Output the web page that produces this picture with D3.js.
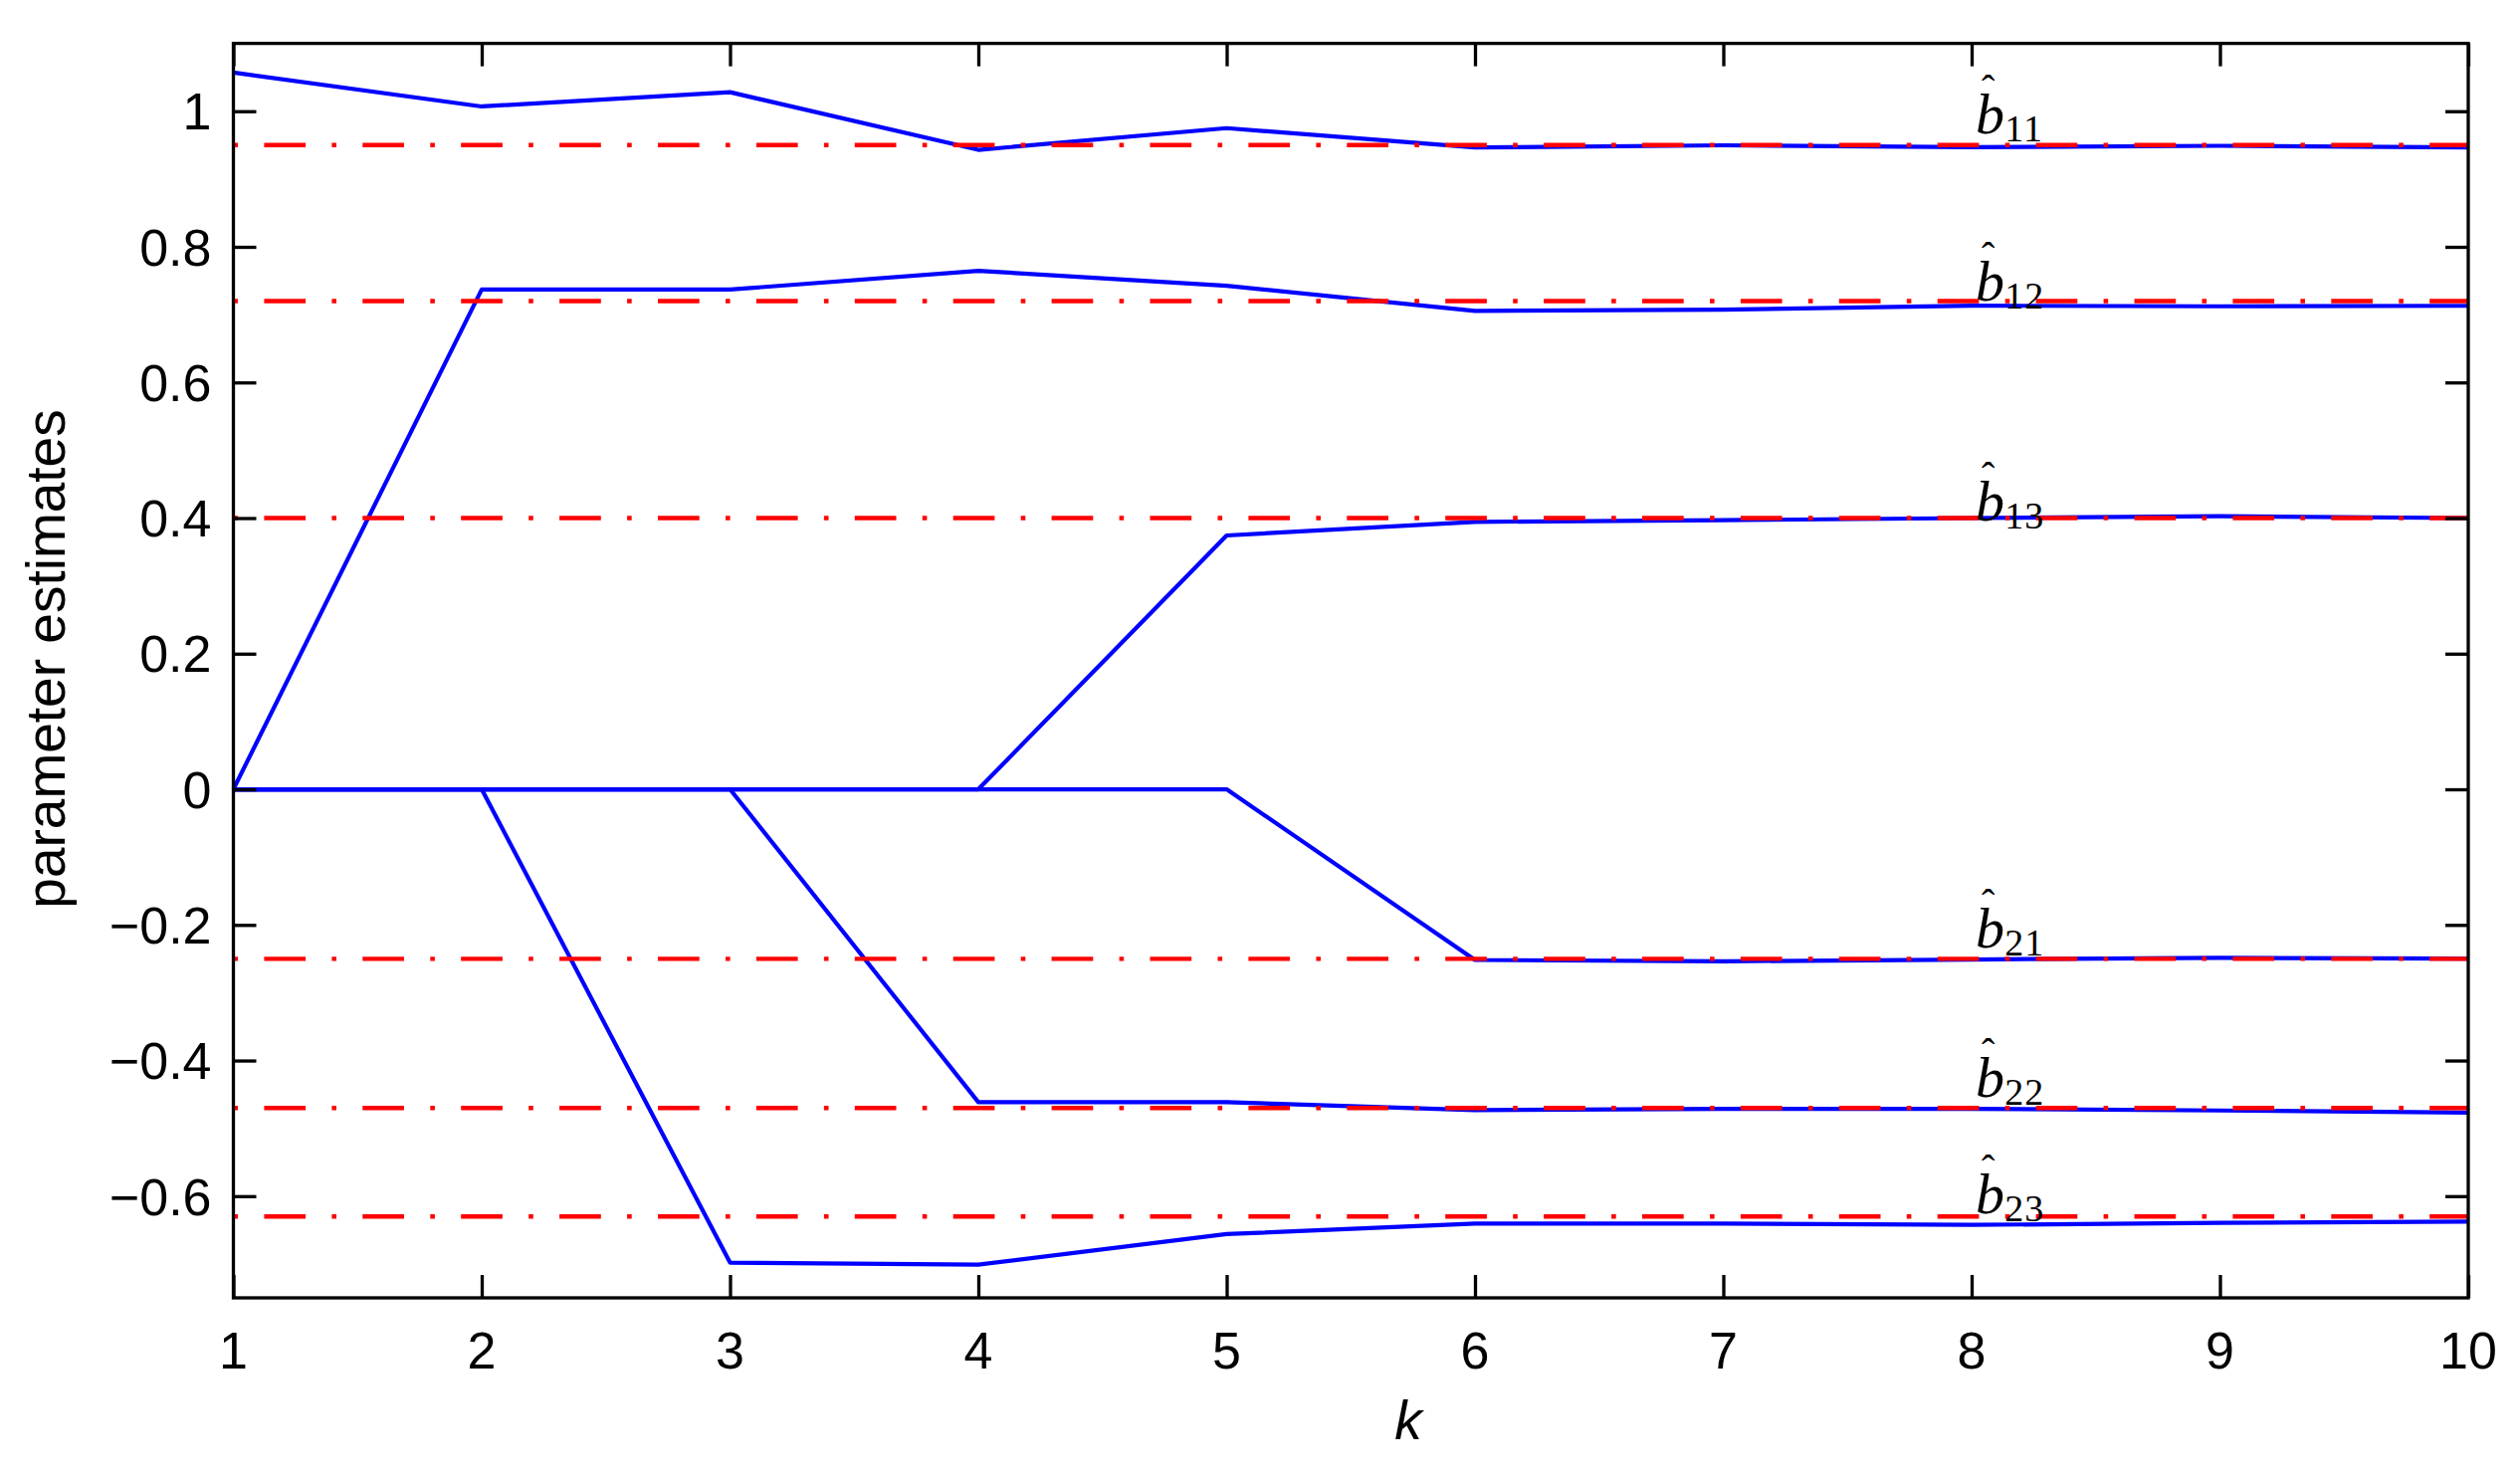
<!DOCTYPE html>
<html>
<head>
<meta charset="utf-8">
<script src="https://cdn.jsdelivr.net/npm/d3@7"></script>
<style>
	body { margin: 0; background: #fff; }
	svg { display: block; }
	.tick-label { font-family: "Liberation Sans", Arial, Helvetica, sans-serif; font-size: 52px; fill: #000; }
	.axis-title { font-family: "Liberation Sans", Arial, Helvetica, sans-serif; font-size: 55px; fill: #000; }
	.est-label { font-family: "Liberation Serif", "Times New Roman", serif; fill: #000; }
</style>
</head>
<body>
<svg id="fig-estimates"></svg>
<script>

// ============================================================================== //
// DATA ========================================================================= //
// ============================================================================== //

var steps = [1, 2, 3, 4, 5, 6, 7, 8, 9, 10];

var b11 = [1.057, 1.007, 1.028, 0.943, 0.975, 0.9465, 0.9497, 0.947, 0.949, 0.9465],
	b12 = [0, 0.737, 0.737, 0.7646, 0.7425, 0.7054, 0.7074, 0.7132, 0.7123, 0.713],
	b13 = [0, 0, 0, 0, 0.3743, 0.3944, 0.3969, 0.400, 0.4027, 0.400],
	b21 = [0, 0, 0, 0, 0, -0.2517, -0.2537, -0.251, -0.2487, -0.2497],
	b22 = [0, 0, 0, -0.4614, -0.4614, -0.4732, -0.4713, -0.4713, -0.4737, -0.4767],
	b23 = [0, 0, -0.698, -0.701, -0.656, -0.6404, -0.6404, -0.6424, -0.6395, -0.6375];

var estimates = [b11, b12, b13, b21, b22, b23];

// true parameter values (dash-dot lines)
var trueValues = [0.95, 0.72, 0.40, -0.25, -0.47, -0.63];

// label subscripts, where the labels sit (k and value of subscript baseline)
var labelSubs = ["11", "12", "13", "21", "22", "23"],
	labelK = 8,
	labelY = [0.955, 0.709, 0.385, -0.245, -0.465, -0.637];

var xTicks = [1, 2, 3, 4, 5, 6, 7, 8, 9, 10],
	yTicks = [-0.6, -0.4, -0.2, 0, 0.2, 0.4, 0.6, 0.8, 1];

// ============================================================================== //
// SETUP ======================================================================== //
// ============================================================================== //

var width = 2532,
	height = 1485,
	m = [43.6, 52, 181, 234.5], // top right bottom left
	w = width - m[1] - m[3],
	h = height - m[0] - m[2],
	tickLen = 23;

var svg = d3.select("#fig-estimates")
	.attr("width", width)
	.attr("height", height);

svg.append("rect")
	.attr("width", width)
	.attr("height", height)
	.attr("fill", "#fff");

var xScale = d3.scaleLinear()
	.domain([1, 10])
	.range([m[3], m[3] + w]);

var yScale = d3.scaleLinear()
	.domain([-0.75, 1.1])
	.range([m[0] + h, m[0]]);

var fmt = d3.format("~g");

// ============================================================================== //
// DRAW ========================================================================= //
// ============================================================================== //

var line = d3.line()
	.x((d, i) => xScale(steps[i]))
	.y(d => yScale(d));

// estimate curves
svg.append("g")
	.attr("class", "estimates")
	.selectAll("path")
	.data(estimates)
	.enter()
	.append("path")
	.attr("d", d => line(d))
	.attr("fill", "none")
	.attr("stroke", "#0000ff")
	.attr("stroke-width", 4.2)
	.attr("stroke-linejoin", "round");

// true values, dash-dot red
svg.append("g")
	.attr("class", "true-values")
	.selectAll("line")
	.data(trueValues)
	.enter()
	.append("line")
	.attr("x1", xScale(1))
	.attr("x2", xScale(10))
	.attr("y1", d => yScale(d))
	.attr("y2", d => yScale(d))
	.attr("stroke", "#ff0000")
	.attr("stroke-width", 4.4)
	.attr("stroke-dasharray", "4.6 26.3 41.7 26.3");

// axes box + inward ticks (all four sides)
var frame = svg.append("g").attr("class", "frame");

frame.append("rect")
	.attr("x", xScale(1))
	.attr("y", yScale(1.1))
	.attr("width", xScale(10) - xScale(1))
	.attr("height", yScale(-0.75) - yScale(1.1))
	.attr("fill", "none")
	.attr("stroke", "#000")
	.attr("stroke-width", 3.3);

var xAxisB = d3.axisBottom(xScale).tickValues(xTicks).tickSize(tickLen).tickFormat(""),
	xAxisT = d3.axisTop(xScale).tickValues(xTicks).tickSize(tickLen).tickFormat(""),
	yAxisL = d3.axisLeft(yScale).tickValues(yTicks).tickSize(tickLen).tickFormat(""),
	yAxisR = d3.axisRight(yScale).tickValues(yTicks).tickSize(tickLen).tickFormat("");

// ticks point inward: put the axis on the opposite side of the tick direction
frame.append("g")
	.attr("transform", `translate(0,${yScale(-0.75) - tickLen})`)
	.call(xAxisB);
frame.append("g")
	.attr("transform", `translate(0,${yScale(1.1) + tickLen})`)
	.call(xAxisT);
frame.append("g")
	.attr("transform", `translate(${xScale(1) + tickLen},0)`)
	.call(yAxisL);
frame.append("g")
	.attr("transform", `translate(${xScale(10) - tickLen},0)`)
	.call(yAxisR);

frame.selectAll(".domain").remove();
frame.selectAll(".tick line")
	.attr("stroke", "#000")
	.attr("stroke-width", 3.3);

// tick labels
svg.append("g")
	.selectAll("text")
	.data(xTicks)
	.enter()
	.append("text")
	.attr("class", "tick-label")
	.attr("x", d => xScale(d))
	.attr("y", yScale(-0.75) + 71)
	.attr("text-anchor", "middle")
	.text(d => d);

svg.append("g")
	.selectAll("text")
	.data(yTicks)
	.enter()
	.append("text")
	.attr("class", "tick-label")
	.attr("x", xScale(1) - 22)
	.attr("y", d => yScale(d))
	.attr("dy", "0.36em")
	.attr("text-anchor", "end")
	.text(d => fmt(d));

// axis titles
svg.append("text")
	.attr("class", "axis-title")
	.attr("transform", "translate(65,662) rotate(-90)")
	.attr("text-anchor", "middle")
	.text("parameter estimates");

svg.append("text")
	.attr("class", "axis-title")
	.attr("x", 1415)
	.attr("y", 1446)
	.attr("text-anchor", "middle")
	.attr("font-style", "italic")
	.text("k");

// hat-b labels, one text each: b, hat over it, then the subscript
var labels = svg.append("g")
	.attr("class", "labels")
	.selectAll("text")
	.data(labelSubs)
	.enter()
	.append("text")
	.attr("class", "est-label")
	.attr("x", xScale(labelK) + 4)
	.attr("y", (d, i) => yScale(labelY[i]) - 8);

labels.append("tspan")
	.attr("font-size", 58)
	.attr("font-style", "italic")
	.text("b");

labels.append("tspan")
	.attr("font-size", 40)
	.attr("dx", -23)
	.attr("dy", -31)
	.text("\u02C6");

labels.append("tspan")
	.attr("font-size", 38)
	.attr("dx", 10)
	.attr("dy", 39)
	.attr("letter-spacing", 1)
	.text(d => d);

</script>
</body>
</html>
